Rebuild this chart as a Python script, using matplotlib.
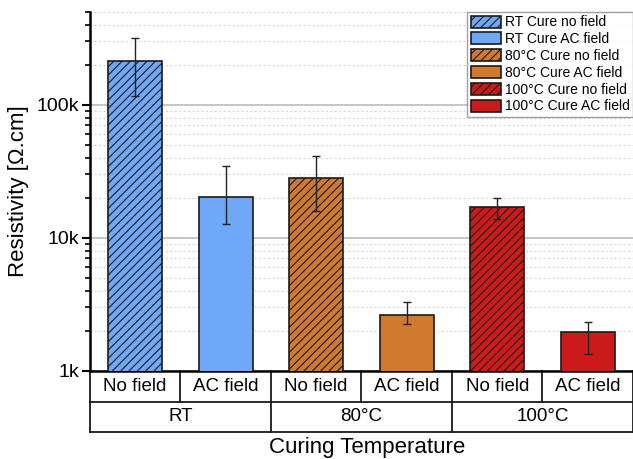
import matplotlib
matplotlib.use("Agg")
import matplotlib.pyplot as plt
from matplotlib.ticker import LogLocator, FixedLocator, NullFormatter, FuncFormatter
import matplotlib.transforms as mtransforms

plt.rcParams['font.family'] = ['Liberation Sans', 'DejaVu Sans']
plt.rcParams['hatch.linewidth'] = 0.8

# data
conditions = ['No field', 'AC field', 'No field', 'AC field', 'No field', 'AC field']
groups = ['RT', '80°C', '100°C']
legend_labels = ['RT Cure no field', 'RT Cure AC field',
                 '80°C Cure no field', '80°C Cure AC field',
                 '100°C Cure no field', '100°C Cure AC field']
resistivity = [212000, 20300, 28100, 2620, 17100, 1970]
err_low = [117000, 12700, 15800, 2270, 13900, 1350]
err_high = [317000, 35000, 41000, 3300, 20100, 2350]
colors = ['#6ea8f7', '#6ea8f7', '#d07a30', '#d07a30', '#cc1a1a', '#cc1a1a']
hatches = ['////', '', '////', '', '////', '']

fig = plt.figure(figsize=(6.33, 4.59), dpi=100)
ax = fig.add_axes([0.142, 0.192, 0.858, 0.782])

x = list(range(len(resistivity)))
yerr = [[v - lo for v, lo in zip(resistivity, err_low)],
        [hi - v for v, hi in zip(resistivity, err_high)]]

for i in x:
    ax.bar(i, resistivity[i], width=0.6, color=colors[i], edgecolor='#1a1a1a',
           linewidth=1.2, hatch=hatches[i], label=legend_labels[i], zorder=3)
ax.errorbar(x, resistivity, yerr=yerr, fmt='none', ecolor='#222222',
            elinewidth=1, capsize=3.2, capthick=1, zorder=4)

ax.set_yscale('log')
ax.set_ylim(1000, 500000)
ax.set_xlim(-0.5, 5.5)
ax.yaxis.set_major_locator(FixedLocator([1e3, 1e4, 1e5]))
ax.yaxis.set_major_formatter(FuncFormatter(lambda v, p: f'{int(v / 1000)}k'))
ax.yaxis.set_minor_locator(LogLocator(base=10, subs=range(2, 10), numticks=20))
ax.yaxis.set_minor_formatter(NullFormatter())
ax.tick_params(axis='y', which='major', length=6, width=1.5, direction='out', labelsize=14, pad=2)
ax.tick_params(axis='y', which='minor', length=3.5, width=1.2, direction='out')
ax.set_xticks([])

ax.grid(True, which='major', axis='y', color='#bbbbbb', linewidth=1.2, zorder=0)
ax.grid(True, which='minor', axis='y', color='#cccccc', linestyle=(0, (1.5, 2.5)), linewidth=0.8, zorder=0)

for s in ['top', 'right']:
    ax.spines[s].set_visible(False)
ax.spines['left'].set_linewidth(1.8)
ax.spines['bottom'].set_linewidth(1.8)

ax.set_ylabel('Resistivity [\u03a9.cm]', fontsize=16, labelpad=5)

# two-row category table under the axis
trans = mtransforms.blended_transform_factory(ax.transData, ax.transAxes)
r1 = -0.0855
r2 = -0.171
lk = dict(color='#1a1a1a', linewidth=1.3, clip_on=False, transform=trans)
ax.plot([-0.5, 5.5], [r1, r1], **lk)
ax.plot([-0.5, 5.5], [r2, r2], **lk)
ax.plot([-0.5, -0.5], [0, r2], **lk)
ax.plot([5.5, 5.5], [0, r2], **lk)
for b in [0.5, 1.5, 2.5, 3.5, 4.5]:
    ax.plot([b, b], [0, r1], **lk)
for b in [1.5, 3.5]:
    ax.plot([b, b], [r1, r2], **lk)
for i, c in enumerate(conditions):
    ax.text(i, r1 / 2, c, ha='center', va='center', fontsize=13.5, transform=trans)
for g, name in enumerate(groups):
    ax.text(2 * g + 0.5, (r1 + r2) / 2, name, ha='center', va='center', fontsize=13.5, transform=trans)

fig.text(0.58, 0.003, 'Curing Temperature', ha='center', va='bottom', fontsize=16)

leg = ax.legend(loc='upper right', bbox_to_anchor=(1.0, 1.0), fontsize=10,
                frameon=True, fancybox=False, edgecolor='#888888',
                handlelength=2.2, handleheight=0.95, labelspacing=0.2,
                handletextpad=0.25, borderpad=0.25, borderaxespad=0.0)
leg.get_frame().set_linewidth(1.0)

fig.savefig('out.png', dpi=100)
